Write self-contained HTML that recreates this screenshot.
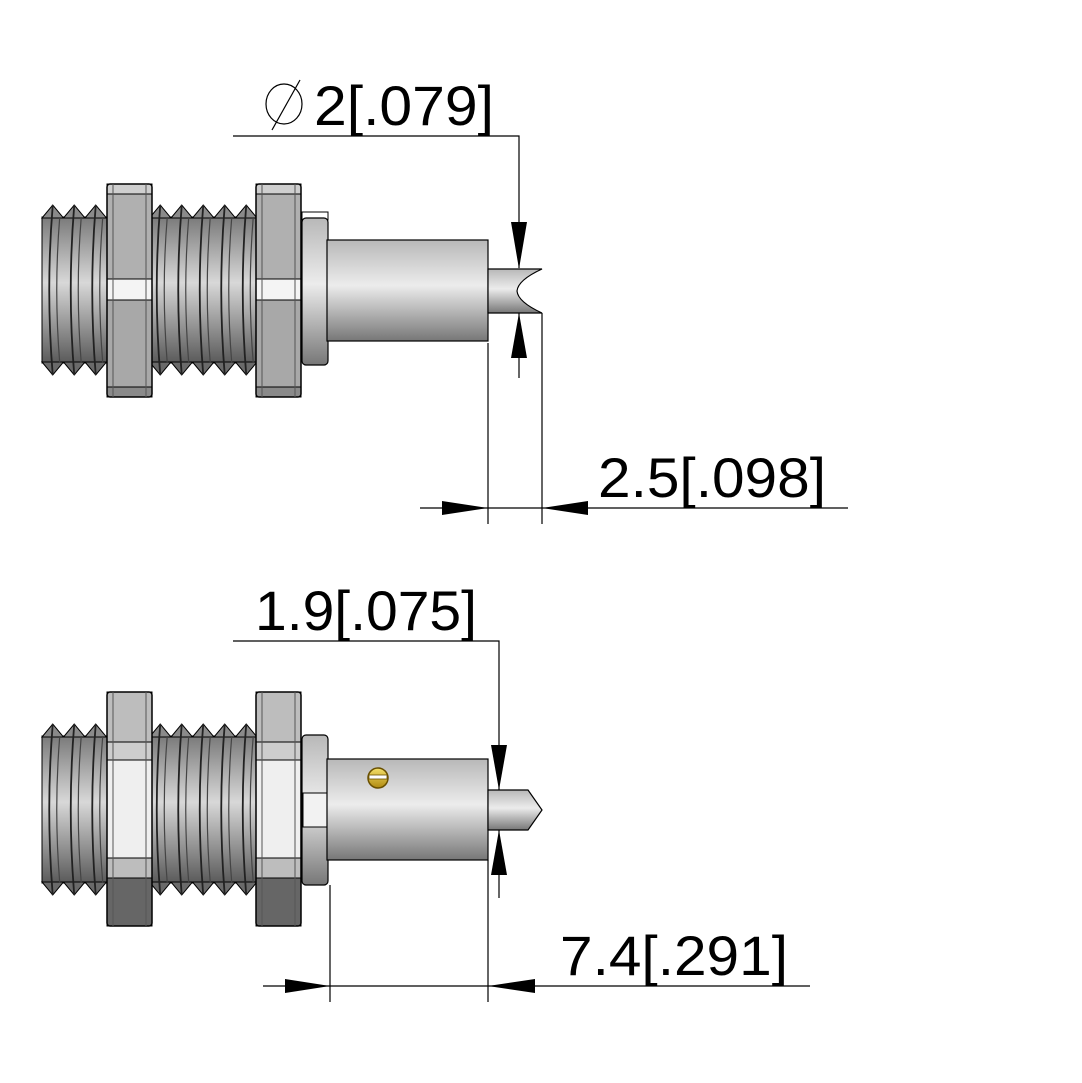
<!DOCTYPE html>
<html><head><meta charset="utf-8"><style>
html,body{margin:0;padding:0;background:#fff;width:1082px;height:1083px;overflow:hidden}
svg{display:block}
text{font-family:"Liberation Sans",sans-serif;font-size:56px;fill:#000}
</style></head><body>
<svg id="s" width="1082" height="1083" viewBox="0 0 1082 1083" xmlns="http://www.w3.org/2000/svg">
<defs>
<linearGradient id="cyl" x1="0" y1="0" x2="0" y2="1">
<stop offset="0" stop-color="#b8b8b8"/><stop offset="0.45" stop-color="#ececec"/><stop offset="1" stop-color="#777"/></linearGradient>
<linearGradient id="thr" x1="0" y1="0" x2="0" y2="1">
<stop offset="0" stop-color="#7a7a7a"/><stop offset="0.45" stop-color="#d8d8d8"/><stop offset="1" stop-color="#5a5a5a"/></linearGradient>
<linearGradient id="scr" x1="0" y1="0" x2="0" y2="1">
<stop offset="0" stop-color="#f4e06a"/><stop offset="1" stop-color="#b08a10"/></linearGradient>
</defs>
<g id="g1"></g>
<g stroke="#000" stroke-width="1.2" fill="none">
<polyline points="233,136 519,136 519,268"/>
<line x1="519" y1="313" x2="519" y2="378"/>
<line x1="488" y1="343" x2="488" y2="524"/>
<line x1="542" y1="313" x2="542" y2="524"/>
<line x1="420" y1="508" x2="848" y2="508"/>
<ellipse cx="284" cy="104" rx="18" ry="20"/>
<line x1="272" y1="130" x2="300" y2="80"/>
<polyline points="233,641 499,641 499,790"/>
<line x1="499" y1="830" x2="499" y2="898"/>
<line x1="330" y1="885" x2="330" y2="1002"/>
<line x1="488" y1="860" x2="488" y2="1002"/>
<line x1="263" y1="986" x2="810" y2="986"/>
</g>
<g fill="#000">
<polygon points="519,269 511,222 527,222"/>
<polygon points="519,313 511,358 527,358"/>
<polygon points="488,508 442,501 442,515"/>
<polygon points="542,508 588,501 588,515"/>
<polygon points="499,790 491,745 507,745"/>
<polygon points="499,830 491,875 507,875"/>
<polygon points="330,986 285,979 285,993"/>
<polygon points="488,986 535,979 535,993"/>
</g>
<text x="314" y="125" textLength="180" lengthAdjust="spacingAndGlyphs">2[.079]</text>
<text x="598" y="497" textLength="228" lengthAdjust="spacingAndGlyphs">2.5[.098]</text>
<text x="255" y="630" textLength="222" lengthAdjust="spacingAndGlyphs">1.9[.075]</text>
<text x="560" y="975" textLength="228" lengthAdjust="spacingAndGlyphs">7.4[.291]</text>
</svg>
<script>
var NS="http://www.w3.org/2000/svg",g=document.getElementById("g1");
function el(t,a){var e=document.createElementNS(NS,t);for(var k in a)e.setAttribute(k,a[k]);g.appendChild(e);return e;}
function threads(x0,x1,yt,yb){
 var pitch=21.5;
 el("rect",{x:x0,y:yt+12,width:x1-x0,height:yb-yt-24,fill:"url(#thr)",stroke:"#000","stroke-width":1});
 for(var x=x0;x<x1-2;x+=pitch){
  var m=Math.min(x+pitch/2,x1),e=Math.min(x+pitch,x1);
  el("polygon",{points:x+","+(yt+13)+" "+m+","+yt+" "+e+","+(yt+13),fill:"#8a8a8a",stroke:"#000","stroke-width":1});
  el("polygon",{points:x+","+(yb-13)+" "+m+","+yb+" "+e+","+(yb-13),fill:"#6a6a6a",stroke:"#000","stroke-width":1});
  el("path",{d:"M"+m+" "+yt+" Q"+(m-7)+" "+((yt+yb)/2)+" "+m+" "+yb,stroke:"#222","stroke-width":1.8,fill:"none"});
  el("path",{d:"M"+(m+7)+" "+(yt+12)+" Q"+(m+1)+" "+((yt+yb)/2)+" "+(m+7)+" "+(yb-12),stroke:"#444","stroke-width":1.2,fill:"none"});
 }
}
function nut(x,y0,y1,bands){
 var w=45,py=y0;
 bands.forEach(function(b){el("rect",{x:x,y:py,width:w,height:b[0],fill:b[1],stroke:"#000","stroke-width":1});py+=b[0];});
 el("rect",{x:x,y:y0,width:w,height:y1-y0,fill:"none",stroke:"#000","stroke-width":1.5,rx:3});
 el("line",{x1:x+6,y1:y0,x2:x+6,y2:y1,stroke:"#555","stroke-width":1});
 el("line",{x1:x+w-6,y1:y0,x2:x+w-6,y2:y1,stroke:"#555","stroke-width":1});
}
threads(42,300,205,375);
nut(107,184,397,[[10,"#cfcfcf"],[85,"#b0b0b0"],[21,"#f4f4f4"],[87,"#a8a8a8"],[10,"#8a8a8a"]]);
nut(256,184,397,[[10,"#cfcfcf"],[85,"#b0b0b0"],[21,"#f4f4f4"],[87,"#a8a8a8"],[10,"#8a8a8a"]]);
el("rect",{x:302,y:212,width:26,height:8,fill:"#fff",stroke:"#000","stroke-width":1});
el("rect",{x:302,y:218,width:26,height:147,rx:4,fill:"url(#cyl)",stroke:"#000","stroke-width":1.2});
el("rect",{x:327,y:240,width:161,height:101,fill:"url(#cyl)",stroke:"#000","stroke-width":1.2});
el("path",{d:"M488 269 L542 269 Q518 280 517 291 Q518 302 542 313 L488 313 Z",fill:"url(#cyl)",stroke:"#000","stroke-width":1.2});
threads(42,300,724,895);
var nb=[[50,"#bdbdbd"],[18,"#cdcdcd"],[98,"#efefef"],[20,"#bdbdbd"],[48,"#666"]];
nut(107,692,926,nb);
nut(256,692,926,nb);
el("rect",{x:302,y:735,width:26,height:150,rx:4,fill:"url(#cyl)",stroke:"#000","stroke-width":1.2});
el("rect",{x:303,y:793,width:24,height:34,fill:"#f2f2f2",stroke:"#000","stroke-width":1});
el("rect",{x:327,y:759,width:161,height:101,fill:"url(#cyl)",stroke:"#000","stroke-width":1.2});
el("polygon",{points:"488,790 528,790 542,810 528,830 488,830",fill:"url(#cyl)",stroke:"#000","stroke-width":1.2});
el("circle",{cx:378,cy:778,r:10,fill:"url(#scr)",stroke:"#6a5000","stroke-width":1.5});
el("rect",{x:369,y:775,width:18,height:4,fill:"#fff",stroke:"#6a5000","stroke-width":0.8});
</script>
</body></html>
